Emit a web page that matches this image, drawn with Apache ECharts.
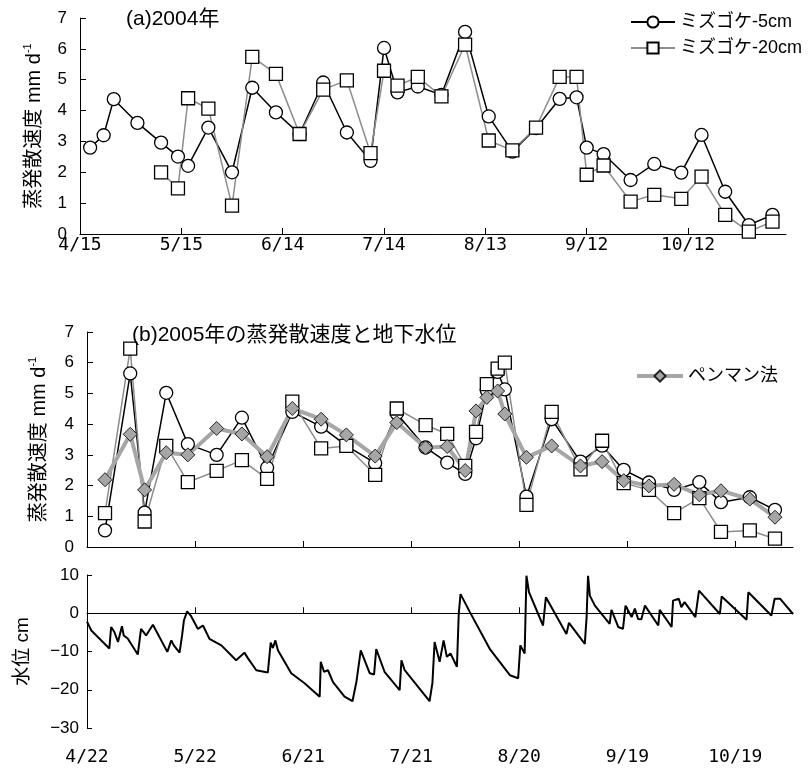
<!DOCTYPE html>
<html>
<head>
<meta charset="utf-8">
<script src="https://cdn.jsdelivr.net/npm/echarts@6/dist/echarts.min.js"></script>
<style>
  html, body { margin: 0; padding: 0; background: #fff; }
  #chart { width: 811px; height: 768px; }
</style>
</head>
<body>
<div id="chart"></div>
<script>
// (a) 2004
var datesA = ['4/18', '4/22', '4/25', '5/2', '5/9', '5/14', '5/17', '5/23', '5/30', '6/5',
  '6/12', '6/19', '6/26', '7/3', '7/10', '7/14', '7/18', '7/24', '7/31', '8/7',
  '8/14', '8/21', '8/28', '9/4', '9/9', '9/12', '9/17', '9/25', '10/2', '10/10',
  '10/16', '10/23', '10/30', '11/6'];
var moss5A = [2.8, 3.2, 4.37, 3.6, 2.96, 2.51, 2.21, 3.45, 2.0, 4.74,
  3.94, 3.24, 4.91, 3.29, 2.37, 6.03, 4.59, 4.78, 4.51, 6.55,
  3.81, 2.67, 3.43, 4.38, 4.43, 2.8, 2.59, 1.75, 2.27, 1.99,
  3.21, 1.37, 0.29, 0.62];
var moss20A = [null, null, null, null, 2.0, 1.48, 4.4, 4.06, 0.92, 5.74,
  5.19, 3.24, 4.68, 4.98, 2.62, 5.29, 4.81, 5.09, 4.46, 6.14,
  3.03, 2.71, 3.45, 5.09, 5.09, 1.92, 2.22, 1.05, 1.27, 1.14,
  1.86, 0.62, 0.08, 0.4];
var ticksA = ['4/15', '5/15', '6/14', '7/14', '8/13', '9/12', '10/12'];

// (b) 2005
var datesB = ['4/27', '5/4', '5/8', '5/14', '5/20', '5/28', '6/4', '6/11', '6/18', '6/26',
  '7/3', '7/11', '7/17', '7/25', '7/31', '8/5', '8/8', '8/11', '8/14', '8/16',
  '8/22', '8/29', '9/6', '9/12', '9/18', '9/25', '10/2', '10/9', '10/15', '10/23', '10/30'];
var moss5B = [0.54, 5.65, 1.12, 5.02, 3.35, 3.0, 4.21, 2.58, 4.4, 3.92,
  3.3, 2.73, 4.35, 3.24, 2.75, 2.38, 3.54, 5.1, 5.7, 5.13,
  1.64, 4.16, 2.78, 3.3, 2.51, 2.1, 1.86, 2.11, 1.46, 1.62, 1.21];
var moss20B = [1.1, 6.46, 0.83, 3.29, 2.11, 2.48, 2.83, 2.22, 4.73, 3.21,
  3.29, 2.35, 4.51, 3.97, 3.68, 2.64, 3.75, 5.3, 5.81, 6.0,
  1.37, 4.4, 2.53, 3.46, 2.08, 1.86, 1.1, 1.59, 0.49, 0.54, 0.27];
var penman = [2.19, 3.67, 1.86, 3.07, 3.0, 3.86, 3.68, 2.94, 4.51, 4.16,
  3.65, 2.96, 4.05, 3.23, 3.27, 2.49, 4.43, 4.87, 5.08, 4.33,
  2.92, 3.29, 2.64, 2.78, 2.16, 1.99, 2.04, 1.7, 1.83, 1.56, 0.97];
var ticksB = ['4/22', '5/22', '6/21', '7/21', '8/20', '9/19', '10/19'];

// water level, days since 4/22 (2005) and cm
var waterDay = [0, 1.2, 3, 6.2, 6.7, 7.6, 8.6, 9.7, 10.2, 11.3,
  14.1, 15, 16.4, 18.3, 22.3, 23.4, 24.1, 25.7, 26.4, 26.9,
  27.8, 28.8, 30.8, 32.2, 34, 37.3, 41.4, 43.7, 44.7, 47,
  50.2, 51, 51.6, 52.3, 53, 56.7, 60.4, 64.6, 64.9, 65.8,
  66.9, 68.3, 71.5, 73.7, 74.8, 76, 78.5, 79.7, 80.3, 82.6,
  86.8, 87.3, 88.2, 95.1, 95.9, 96.5, 97.9, 99, 99.9, 100.9,
  102.7, 103.2, 103.7, 106.3, 111.8, 117.4, 119.7, 120.3, 121.5, 122,
  122.7, 126.6, 127.4, 133.1, 133.8, 138.2, 138.7, 139.1, 139.6, 141,
  145.1, 145.6, 147.5, 148.8, 149.5, 151.2, 152.1, 153, 153.9, 154.9,
  158.6, 159, 162.3, 162.7, 164.3, 165, 165.9, 168.9, 169.9, 175.7,
  176.2, 183.1, 183.6, 190, 190.9, 192.4, 196];
var waterCm = [-2.2, -4.5, -6.2, -9.2, -3.6, -4.9, -7.5, -3.4, -5.8, -6.6,
  -10.8, -4.1, -5.8, -3.0, -10.1, -7.1, -8.4, -10.3, -5.8, -1.9,
  0.5, -0.6, -4.1, -3.2, -6.7, -8.4, -12.3, -10.3, -11.8, -14.9,
  -15.5, -7.7, -9.1, -7.1, -9.7, -15.7, -18.3, -21.8, -12.7, -15.3,
  -14.9, -18.0, -21.8, -23.0, -17.9, -9.7, -15.7, -16.0, -9.4, -15.3,
  -20.1, -12.3, -14.9, -23.0, -18.2, -7.5, -12.7, -7.1, -11.4, -10.5,
  -14.0, -0.2, 5.0, 0.3, -9.3, -16.2, -17.0, -8.4, -10.5, 9.8,
  5.5, -3.2, 4.2, -5.4, -2.5, -8.0, -1.0, 9.8, 4.6, 2.0,
  -2.8, 0.9, -3.6, -4.1, 2.0, -1.0, 1.2, -1.5, -1.6, 2.0,
  -3.2, 0.9, -3.6, 3.3, 3.8, 1.6, 2.9, -1.0, 5.9, -0.2,
  4.4, -1.7, 5.5, -0.6, 3.8, 3.8, -0.2];

function dayOf(md, year) {
  var p = md.split('/');
  return Date.UTC(year, +p[0] - 1, +p[1]) / 86400000;
}
function pairs(dates, vals, year, start) {
  var s = dayOf(start, year);
  return dates.map(function (d, i) { return [dayOf(d, year) - s, vals[i]]; });
}

var cjk = "'Liberation Sans', 'Noto Sans CJK JP', sans-serif";
var dateFont = "'DejaVu Sans Mono', monospace";
var tickIdx = [0, 30, 60, 90, 120, 150, 180];

var circleStyle = {
  type: 'line', symbol: 'circle', symbolSize: 13,
  lineStyle: { color: '#000', width: 1.5 },
  itemStyle: { color: '#fff', borderColor: '#000', borderWidth: 1.3 }
};
var squareStyle = {
  type: 'line', symbol: 'rect', symbolSize: 13,
  lineStyle: { color: '#8c8c8c', width: 1.5 },
  itemStyle: { color: '#fff', borderColor: '#000', borderWidth: 1.3 }
};

function yAxisET(grid, nameGap) {
  return {
    type: 'value', gridIndex: grid, min: 0, max: 7, interval: 1,
    splitLine: { show: false },
    axisLine: { show: true, lineStyle: { color: '#000' } },
    axisTick: { show: true, inside: true, length: 6, lineStyle: { color: '#000' } },
    axisLabel: { color: '#000', fontSize: 17, margin: 13, fontFamily: 'Liberation Sans' },
    name: '{a|蒸発散速度 mm d}{s|-1}',
    nameLocation: 'middle', nameRotate: 90, nameGap: nameGap,
    nameTextStyle: {
      rich: {
        a: { fontSize: 20, color: '#000', fontFamily: cjk, lineHeight: 24 },
        s: { fontSize: 11, color: '#000', fontFamily: 'Liberation Sans', verticalAlign: 'top', lineHeight: 24 }
      }
    }
  };
}
function xAxisDays(grid, max, labels, showLabels, margin) {
  return {
    type: 'value', gridIndex: grid, min: 0, max: max,
    splitLine: { show: false },
    axisLine: { show: true, onZero: false, lineStyle: { color: '#000' } },
    axisTick: { show: true, inside: true, length: 6, customValues: tickIdx, lineStyle: { color: '#000' } },
    axisLabel: {
      show: showLabels, customValues: tickIdx, color: '#000', fontSize: 18, margin: margin,
      fontFamily: dateFont,
      formatter: function (v) { return labels[Math.round(v / 30)] || ''; }
    }
  };
}

var chart = echarts.init(document.getElementById('chart'), null, { renderer: 'canvas' });

var waterX = xAxisDays(2, 196, ticksB, false, 0);
waterX.axisLine.onZero = true;
var waterLabels = xAxisDays(2, 196, ticksB, true, 20);
waterLabels.axisLine.show = false;
waterLabels.axisTick.show = false;
waterLabels.position = 'bottom';

chart.setOption({
  animation: false,
  textStyle: { fontFamily: cjk, color: '#000' },
  title: [
    { text: '(a)2004年', left: 121, top: 4, textStyle: { fontSize: 21, fontWeight: 'normal', color: '#000', fontFamily: cjk } },
    { text: '(b)2005年の蒸発散速度と地下水位', left: 127, top: 320, textStyle: { fontSize: 21, fontWeight: 'normal', color: '#000', fontFamily: cjk } }
  ],
  legend: [
    {
      data: ['ミズゴケ-5cm', 'ミズゴケ-20cm'], orient: 'vertical', left: 625, top: 8,
      itemWidth: 44, itemHeight: 14, itemGap: 8,
      textStyle: { fontSize: 18, color: '#000', fontFamily: cjk }
    },
    {
      data: ['ペンマン法'], left: 630, top: 362,
      itemWidth: 46, itemHeight: 14,
      lineStyle: { width: 4 },
      textStyle: { fontSize: 18, color: '#000', fontFamily: cjk }
    }
  ],
  grid: [
    { left: 80, top: 18, width: 706, height: 216 },
    { left: 87, top: 332, width: 706, height: 215 },
    { left: 87, top: 575, width: 706, height: 153 }
  ],
  xAxis: [
    xAxisDays(0, 209, ticksA, true, 2),
    xAxisDays(1, 196, ticksB, false, 0),
    waterX,
    waterLabels
  ],
  yAxis: [
    yAxisET(0, 34),
    yAxisET(1, 36),
    {
      type: 'value', gridIndex: 2, min: -30, max: 10, interval: 10,
      splitLine: { show: false },
      axisLine: { show: true, onZero: false, lineStyle: { color: '#000' } },
      axisTick: { show: true, inside: true, length: 5, lineStyle: { color: '#000' } },
      axisLabel: {
        color: '#000', fontSize: 17, margin: 8, fontFamily: 'Liberation Sans',
        formatter: function (v) { return String(v).replace('-', '\u2212'); }
      },
      name: '水位 cm', nameLocation: 'middle', nameRotate: 90, nameGap: 55,
      nameTextStyle: { fontSize: 19, color: '#000', fontFamily: cjk }
    }
  ],
  series: [
    Object.assign({}, circleStyle, { name: 'ミズゴケ-5cm', xAxisIndex: 0, yAxisIndex: 0, data: pairs(datesA, moss5A, 2004, '4/15') }),
    Object.assign({}, squareStyle, { name: 'ミズゴケ-20cm', xAxisIndex: 0, yAxisIndex: 0, data: pairs(datesA, moss20A, 2004, '4/15') }),
    Object.assign({}, circleStyle, { name: 'ミズゴケ-5cm', xAxisIndex: 1, yAxisIndex: 1, data: pairs(datesB, moss5B, 2005, '4/22') }),
    Object.assign({}, squareStyle, { name: 'ミズゴケ-20cm', xAxisIndex: 1, yAxisIndex: 1, data: pairs(datesB, moss20B, 2005, '4/22') }),
    {
      name: 'ペンマン法', type: 'line', xAxisIndex: 1, yAxisIndex: 1,
      symbol: 'diamond', symbolSize: 14,
      lineStyle: { color: '#a6a6a6', width: 4 },
      itemStyle: { color: '#a6a6a6', borderColor: '#222', borderWidth: 1 },
      data: pairs(datesB, penman, 2005, '4/22')
    },
    {
      name: '水位', type: 'line', xAxisIndex: 2, yAxisIndex: 2,
      showSymbol: false, symbol: 'none',
      lineStyle: { color: '#000', width: 2 },
      data: waterDay.map(function (d, i) { return [d, waterCm[i]]; })
    }
  ]
});
</script>
</body>
</html>
